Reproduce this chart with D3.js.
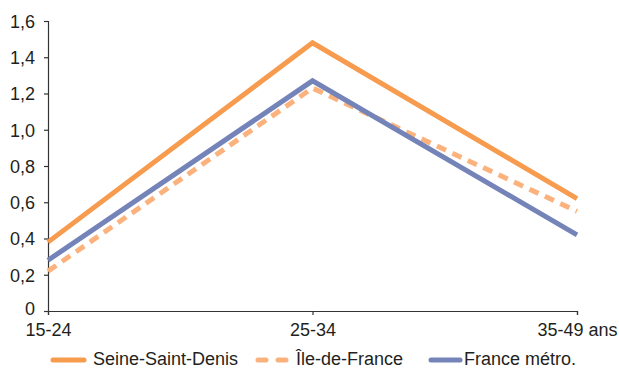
<!DOCTYPE html>
<html><head><meta charset="utf-8">
<script src="https://cdn.jsdelivr.net/npm/d3@7"></script>
<style>body{margin:0;background:#fff}svg{display:block;font-family:"Liberation Sans",Arial,sans-serif}</style>
</head><body><svg id="c" width="619" height="369"></svg>
<script>
const categories = ["15-24", "25-34", "35-49 ans"];
const yTicks = [0, 0.2, 0.4, 0.6, 0.8, 1.0, 1.2, 1.4, 1.6];
const seineSaintDenis = [0.38, 1.48, 0.62];
const ileDeFrance = [0.22, 1.23, 0.55];
const franceMetro = [0.28, 1.27, 0.42];
const seriesNames = ["Seine-Saint-Denis", "Île-de-France", "France métro."];

const series = [
  {name: seriesNames[0], values: seineSaintDenis, color: "#f79b4f", dash: null},
  {name: seriesNames[1], values: ileDeFrance, color: "#fbb27c", dash: "10,7"},
  {name: seriesNames[2], values: franceMetro, color: "#7584b8", dash: null}
];

const svg = d3.select("#c");
const x = d3.scalePoint().domain(categories).range([48, 577]);
const y = d3.scaleLinear().domain([0, 1.6]).range([311, 21]);
const fmt = d => d === 0 ? "0" : d3.format(".1f")(d).replace(".", ",");

const yAxis = svg.append("g").attr("transform", "translate(48,0)")
  .call(d3.axisLeft(y).tickValues(yTicks).tickFormat(fmt).tickSize(4).tickPadding(9));
const xAxis = svg.append("g").attr("transform", "translate(0,311)")
  .call(d3.axisBottom(x).tickSize(4).tickPadding(3));
[yAxis, xAxis].forEach(a => {
  a.select(".domain").attr("stroke", "#333").attr("stroke-width", 1.2);
  a.selectAll(".tick line").attr("stroke", "#333").attr("stroke-width", 1.2);
  a.selectAll("text").attr("fill", "#231f20").style("font-size", "18px");
});
yAxis.selectAll("text").attr("dy", d => d === 0 ? "0.18em" : "0.35em");
xAxis.selectAll("text").attr("dy", "0.98em");

const line = d3.line().x((d, i) => x(categories[i])).y(d => y(d));
series.forEach(s => {
  svg.append("path").datum(s.values).attr("d", line)
    .attr("fill", "none").attr("stroke", s.color).attr("stroke-width", 5)
    .attr("stroke-dasharray", s.dash);
});

const legendX = [[53, 84, 93], [258, 289, 296], [431, 460, 464]];
series.forEach((s, i) => {
  const g = svg.append("g");
  g.append("line").attr("x1", legendX[i][0]).attr("x2", legendX[i][1]).attr("y1", 360).attr("y2", 360)
    .attr("stroke", s.color).attr("stroke-width", 5).attr("stroke-linecap", "round")
    .attr("stroke-dasharray", s.dash ? "8,12" : null);
  g.append("text").attr("x", legendX[i][2]).attr("y", 358.5).attr("dy", "0.35em")
    .attr("fill", "#231f20").style("font-size", "18px").text(s.name);
});
</script></body></html>
